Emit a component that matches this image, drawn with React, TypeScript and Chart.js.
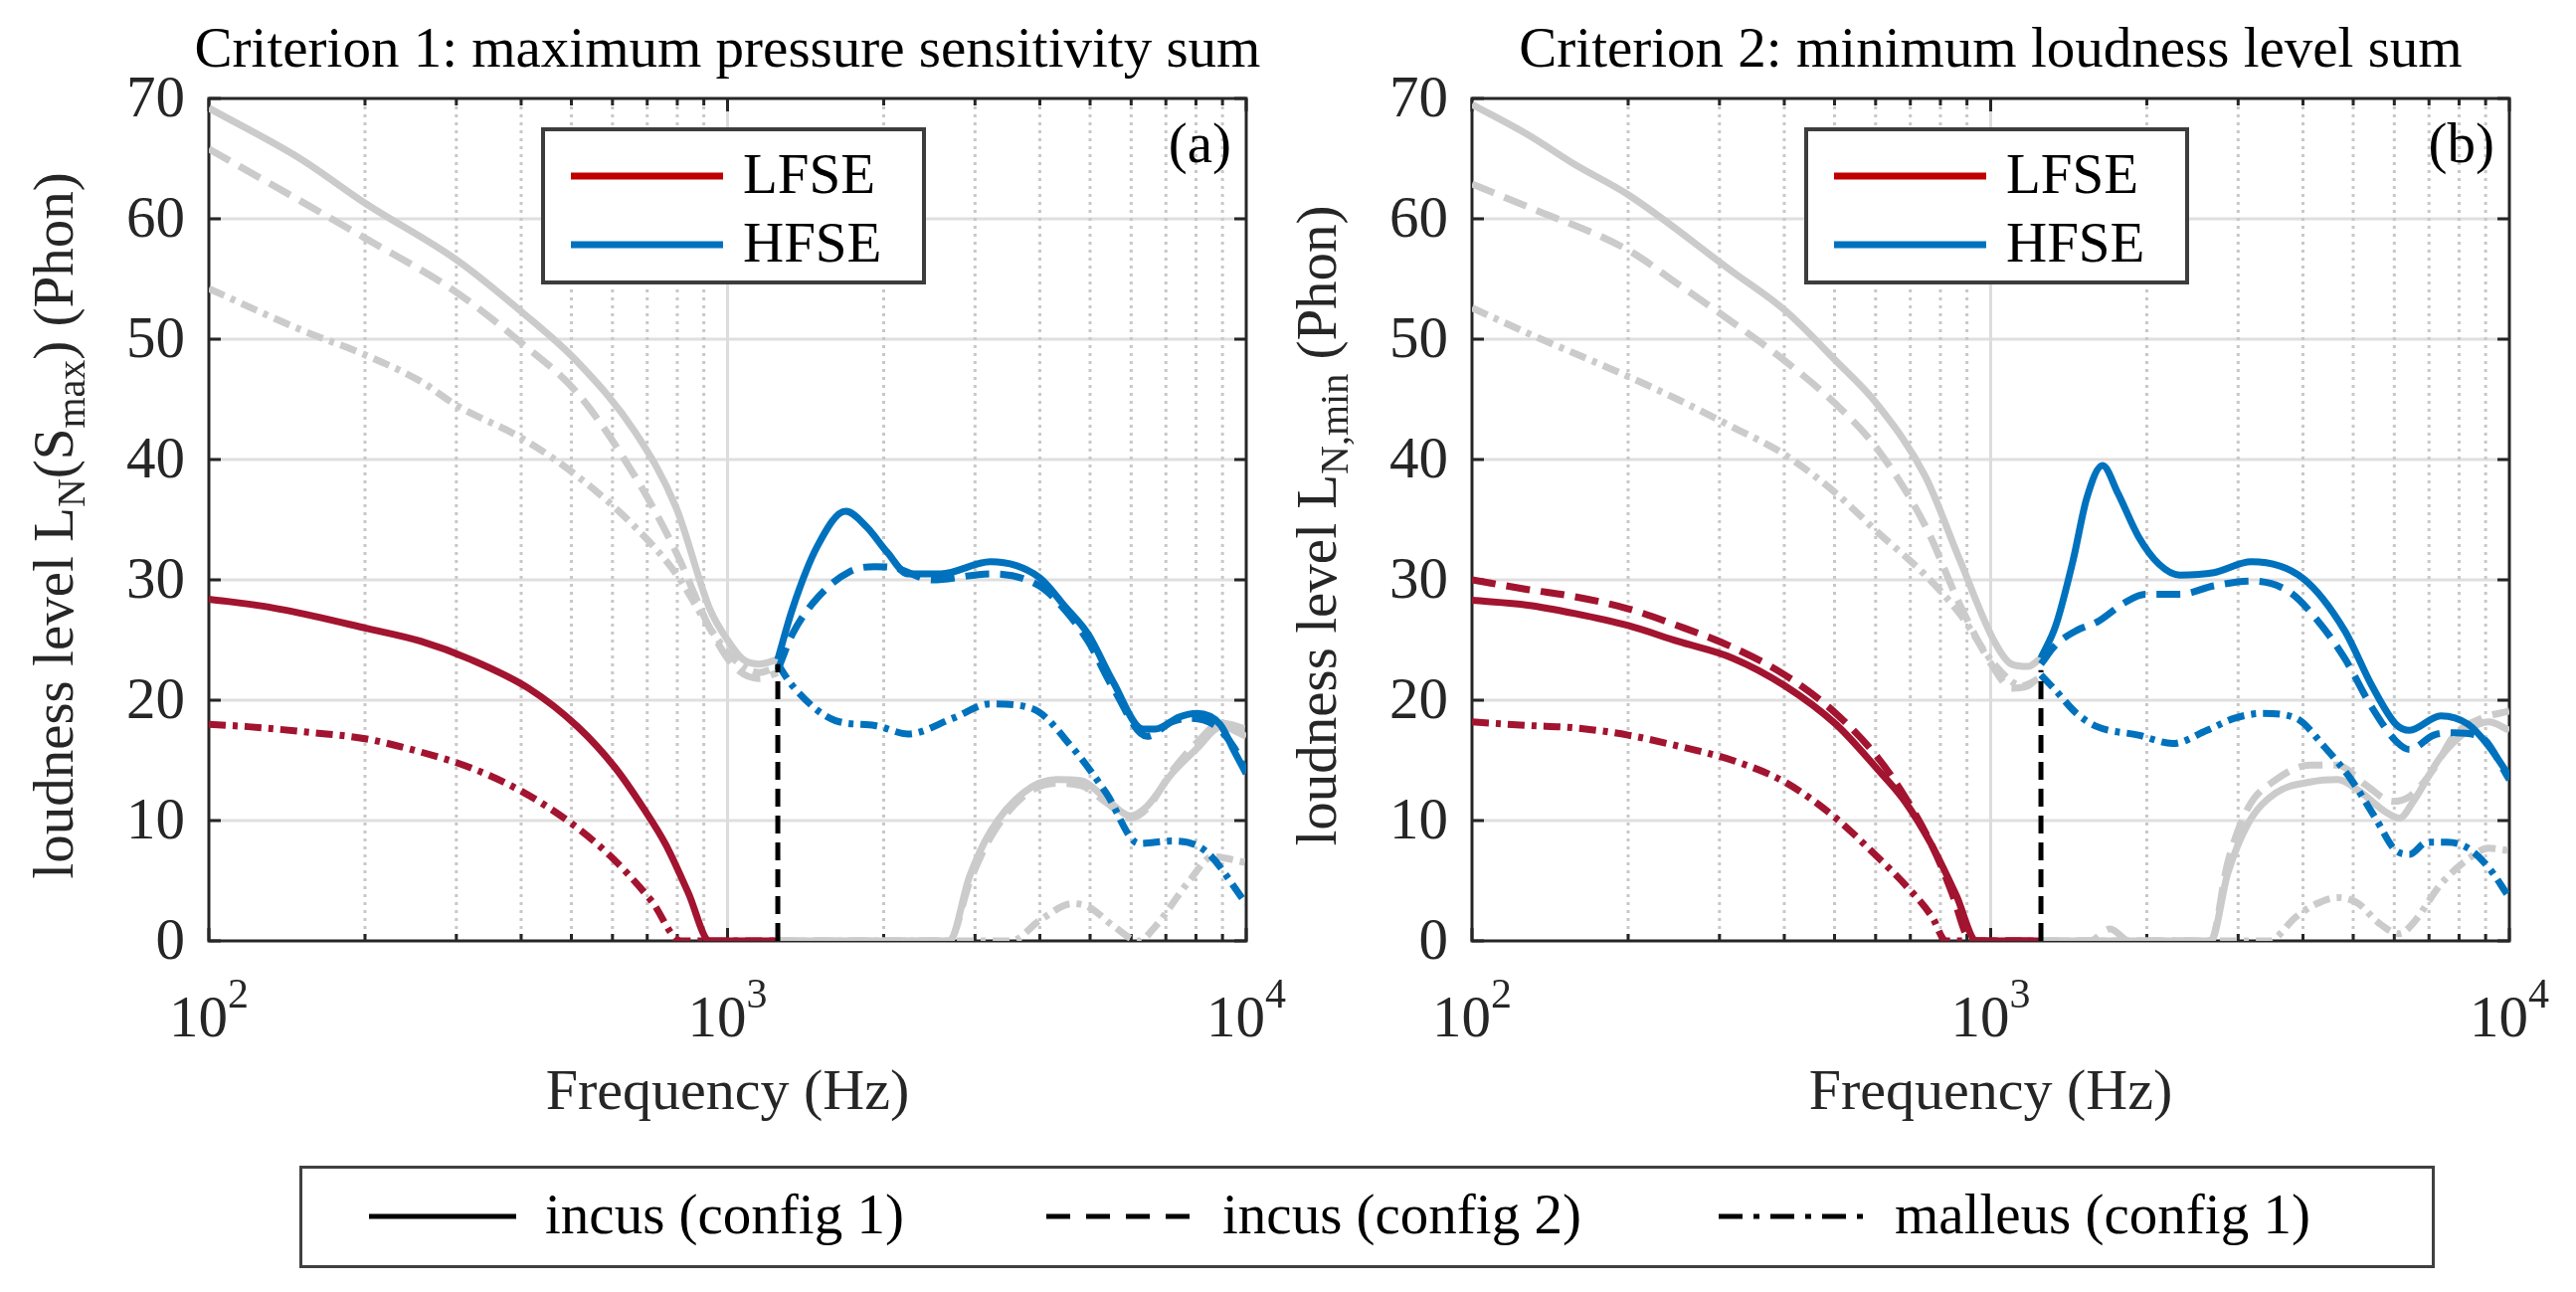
import { useEffect, useRef } from 'react';
import { Chart, registerables } from 'chart.js';

Chart.register(...registerables);

const FONT = '"Liberation Serif", "Times New Roman", serif';
const RED = '#A2142F';
const RED_KEY = '#C00000';
const BLUE = '#0072BD';
const GRAY = '#CBCBCB';
const INK = '#262626';

const Y_TICKS = [0, 10, 20, 30, 40, 50, 60, 70];
const X_DECADES = [2, 3, 4];
const BOUNDARY_F = 1250;

// ---------- panel (a): criterion 1 ----------
const A_GRAY_SOLID_LF_F = [100, 150, 200, 300, 400, 514, 663, 796, 924, 1000, 1070, 1150, 1250];
const A_GRAY_SOLID_LF_Y = [69.2, 65.0, 61.3, 56.6, 52.3, 48.1, 42.3, 36.0, 27.6, 25.0, 23.4, 23.0, 23.4];
const A_GRAY_DASH_LF_F = [100, 150, 200, 300, 400, 514, 663, 796, 924, 1030, 1150, 1250];
const A_GRAY_DASH_LF_Y = [65.8, 61.5, 58.4, 53.9, 49.7, 45.5, 38.6, 32.3, 26.0, 22.8, 21.8, 22.3];
const A_GRAY_DOT_LF_F = [100, 150, 200, 256, 300, 400, 514, 663, 796, 924, 1030, 1150, 1250];
const A_GRAY_DOT_LF_Y = [54.2, 50.8, 48.7, 46.5, 44.5, 41.8, 38.6, 34.4, 30.5, 26.0, 23.4, 22.3, 22.8];

const A_RED_SOLID_F = [100, 128, 159, 200, 256, 319, 413, 514, 607, 689, 760, 840, 924, 1250];
const A_RED_SOLID_Y = [28.4, 27.8, 27.0, 26.0, 24.9, 23.4, 21.0, 17.8, 14.4, 11.0, 8.0, 4.0, 0, 0];
const A_RED_DOT_F = [100, 119, 159, 200, 256, 319, 398, 495, 596, 714, 813, 1250];
const A_RED_DOT_Y = [18.0, 17.8, 17.3, 16.8, 15.7, 14.4, 12.5, 9.9, 7.0, 3.3, 0, 0];

const A_BLUE_SOLID_F = [1250, 1334, 1490, 1690, 1854, 2031, 2228, 2576, 3214, 3990, 4470, 4955, 5540, 6324, 6680, 7420, 8040, 8900, 9500, 10000];
const A_BLUE_SOLID_Y = [23.4, 27.6, 32.8, 35.7, 34.4, 32.3, 30.5, 30.5, 31.5, 30.2, 27.8, 25.5, 21.5, 17.6, 17.6, 18.6, 18.9, 18.0, 15.7, 13.9];
const A_BLUE_DASH_F = [1250, 1334, 1490, 1722, 1923, 2100, 2483, 3214, 3990, 4470, 4955, 5540, 6440, 7190, 7740, 8630, 9500, 10000];
const A_BLUE_DASH_Y = [22.5, 25.5, 28.5, 30.7, 31.1, 31.0, 30.0, 30.5, 29.5, 27.5, 24.9, 21.0, 17.0, 18.2, 18.5, 18.0, 16.0, 14.0];
const A_BLUE_DOT_F = [1250, 1334, 1615, 1923, 2228, 2718, 3214, 3870, 4634, 5370, 6210, 7190, 8330, 10000];
const A_BLUE_DOT_Y = [23.0, 21.2, 18.3, 17.9, 17.2, 18.5, 19.7, 19.3, 16.0, 12.3, 8.1, 8.3, 7.5, 3.1];

const A_GRAY_HF_F = [1250, 2673, 2930, 3214, 3715, 4300, 4810, 5370, 5985, 6440, 7190, 8040, 8960, 10000];
const A_GRAY_SOLID_HF_Y = [0, 0, 5.4, 9.1, 12.3, 13.4, 13.3, 11.8, 10.4, 11.2, 13.9, 16.0, 17.8, 17.0];
const A_GRAY_DASH_HF_Y = [0, 0, 4.9, 8.6, 12.0, 13.1, 12.9, 11.5, 10.2, 11.0, 14.1, 16.5, 18.1, 17.6];
const A_GRAY_DOT_HF_F = [1250, 3524, 4000, 4634, 4977, 5560, 6210, 6680, 7740, 8630, 10000];
const A_GRAY_DOT_HF_Y = [0, 0, 1.7, 3.1, 2.8, 1.2, 0, 1.2, 4.9, 7.0, 6.5];
const A_BOUNDARY_TOP = 23;

// ---------- panel (b): criterion 2 ----------
const B_GRAY_SOLID_LF_F = [100, 128, 158, 200, 318, 401, 503, 604, 748, 871, 1016, 1097, 1180, 1250];
const B_GRAY_SOLID_LF_Y = [69.5, 67.0, 64.5, 62.0, 55.6, 52.4, 48.2, 44.6, 38.6, 31.7, 24.9, 23.0, 22.8, 23.5];
const B_GRAY_DASH_LF_F = [100, 128, 200, 249, 318, 401, 503, 604, 748, 871, 1016, 1097, 1180, 1250];
const B_GRAY_DASH_LF_Y = [62.9, 61.0, 57.4, 54.6, 51.4, 48.2, 44.6, 40.9, 34.5, 28.0, 22.6, 21.0, 21.2, 22.1];
const B_GRAY_DOT_LF_F = [100, 128, 200, 249, 318, 401, 503, 604, 748, 871, 1016, 1150, 1250];
const B_GRAY_DOT_LF_Y = [52.6, 50.5, 46.9, 45.0, 42.7, 40.4, 37.2, 34.0, 30.4, 27.2, 23.0, 21.2, 21.9];

const B_RED_SOLID_F = [100, 128, 158, 200, 249, 318, 401, 503, 604, 683, 771, 858, 940, 1250];
const B_RED_SOLID_Y = [28.3, 27.9, 27.2, 26.2, 24.9, 23.5, 21.2, 18.0, 14.3, 11.6, 7.9, 3.8, 0, 0];
const B_RED_DASH_F = [100, 128, 158, 200, 249, 318, 401, 503, 604, 683, 771, 845, 899, 920, 1250];
const B_RED_DASH_Y = [30.0, 29.2, 28.6, 27.6, 26.2, 24.4, 22.1, 18.9, 15.3, 12.0, 7.9, 3.8, 0.4, 0, 0];
const B_RED_DOT_F = [100, 128, 158, 200, 249, 318, 401, 503, 604, 683, 771, 820, 1250];
const B_RED_DOT_Y = [18.2, 17.9, 17.7, 17.1, 16.2, 15.0, 13.2, 10.2, 7.0, 4.7, 2.0, 0, 0];

const B_BLUE_SOLID_F = [1250, 1335, 1443, 1532, 1643, 1759, 1927, 2112, 2314, 2694, 3183, 4006, 4811, 5433, 6044, 6422, 7374, 8324, 9118, 10000];
const B_BLUE_SOLID_Y = [23.5, 26.2, 31.7, 36.8, 39.5, 37.2, 33.6, 31.3, 30.4, 30.6, 31.5, 30.1, 25.8, 21.2, 18.0, 17.5, 18.7, 18.0, 16.2, 13.7];
const B_BLUE_DASH_F = [1250, 1335, 1465, 1604, 1812, 1986, 2314, 2694, 3183, 3767, 4254, 4811, 5433, 6044, 6422, 7150, 7834, 8850, 10000];
const B_BLUE_DASH_Y = [23.0, 24.6, 25.8, 26.5, 28.1, 28.8, 28.8, 29.5, 29.9, 29.0, 26.7, 23.5, 19.4, 16.6, 15.9, 17.1, 17.3, 16.9, 13.4];
const B_BLUE_DOT_F = [1250, 1335, 1465, 1604, 1927, 2244, 2613, 2951, 3333, 3881, 4385, 4955, 5520, 6044, 6422, 6935, 7600, 8324, 9118, 10000];
const B_BLUE_DOT_Y = [22.1, 20.8, 18.9, 17.8, 17.1, 16.4, 17.5, 18.5, 18.9, 18.5, 16.2, 13.4, 10.2, 7.5, 7.2, 8.2, 8.2, 7.7, 6.1, 3.6];

const B_GRAY_SOLID_HF_F = [1250, 2656, 2864, 3140, 3548, 4130, 4667, 5115, 5780, 6140, 6530, 7374, 8324, 9118, 10000];
const B_GRAY_SOLID_HF_Y = [0, 0, 5.6, 9.8, 12.3, 13.2, 13.4, 12.5, 10.7, 10.2, 11.6, 15.3, 17.5, 18.2, 17.5];
const B_GRAY_DASH_HF_F = [1250, 1550, 1700, 1850, 2656, 2864, 3140, 3548, 4130, 4667, 5270, 5960, 6422, 7150, 7834, 8850, 10000];
const B_GRAY_DASH_HF_Y = [0, 0, 1.0, 0, 0, 6.5, 11.1, 13.4, 14.6, 14.6, 13.0, 11.6, 12.0, 14.3, 17.1, 18.5, 19.1];
const B_GRAY_DOT_HF_F = [1250, 3436, 3881, 4254, 4667, 5115, 5595, 6140, 6530, 7374, 8324, 9118, 10000];
const B_GRAY_DOT_HF_Y = [0, 0, 2.0, 3.1, 3.6, 3.1, 1.5, 0.6, 1.5, 4.7, 6.8, 7.7, 7.5];
const B_BOUNDARY_TOP = 22.5;

const KEY_LABELS = ['LFSE', 'HFSE'];
const BOTTOM_LABELS = ['incus (config 1)', 'incus (config 2)', 'malleus (config 1)'];

const SOLID: number[] = [];
const DASHED = [24, 11];
const DASHDOT = [17, 7, 5, 7];

type Series = { f: number[]; y: number[]; color: string; dash: number[]; order: number };
type Part = { t: string; size: number; dy: number };
type Panel = {
  title: string;
  letter: string;
  ylabel: Part[];
  series: Series[];
  boundaryTop: number;
};

const sub = (t: string): Part => ({ t, size: 40, dy: 12 });
const main = (t: string): Part => ({ t, size: 57, dy: 0 });

const PANEL_A: Panel = {
  title: 'Criterion 1: maximum pressure sensitivity sum',
  letter: '(a)',
  ylabel: [main('loudness level L'), sub('N'), main('(S'), sub('max'), main(') (Phon)')],
  boundaryTop: A_BOUNDARY_TOP,
  series: [
    { f: A_GRAY_SOLID_LF_F, y: A_GRAY_SOLID_LF_Y, color: GRAY, dash: SOLID, order: 5 },
    { f: A_GRAY_DASH_LF_F, y: A_GRAY_DASH_LF_Y, color: GRAY, dash: DASHED, order: 5 },
    { f: A_GRAY_DOT_LF_F, y: A_GRAY_DOT_LF_Y, color: GRAY, dash: DASHDOT, order: 5 },
    { f: A_GRAY_HF_F, y: A_GRAY_SOLID_HF_Y, color: GRAY, dash: SOLID, order: 5 },
    { f: A_GRAY_HF_F, y: A_GRAY_DASH_HF_Y, color: GRAY, dash: DASHED, order: 5 },
    { f: A_GRAY_DOT_HF_F, y: A_GRAY_DOT_HF_Y, color: GRAY, dash: DASHDOT, order: 5 },
    { f: A_RED_DOT_F, y: A_RED_DOT_Y, color: RED, dash: DASHDOT, order: 3 },
    { f: A_RED_SOLID_F, y: A_RED_SOLID_Y, color: RED, dash: SOLID, order: 2 },
    { f: A_BLUE_DOT_F, y: A_BLUE_DOT_Y, color: BLUE, dash: DASHDOT, order: 3 },
    { f: A_BLUE_DASH_F, y: A_BLUE_DASH_Y, color: BLUE, dash: DASHED, order: 3 },
    { f: A_BLUE_SOLID_F, y: A_BLUE_SOLID_Y, color: BLUE, dash: SOLID, order: 2 },
  ],
};

const PANEL_B: Panel = {
  title: 'Criterion 2: minimum loudness level sum',
  letter: '(b)',
  ylabel: [main('loudness level L'), sub('N,min'), main(' (Phon)')],
  boundaryTop: B_BOUNDARY_TOP,
  series: [
    { f: B_GRAY_SOLID_LF_F, y: B_GRAY_SOLID_LF_Y, color: GRAY, dash: SOLID, order: 5 },
    { f: B_GRAY_DASH_LF_F, y: B_GRAY_DASH_LF_Y, color: GRAY, dash: DASHED, order: 5 },
    { f: B_GRAY_DOT_LF_F, y: B_GRAY_DOT_LF_Y, color: GRAY, dash: DASHDOT, order: 5 },
    { f: B_GRAY_SOLID_HF_F, y: B_GRAY_SOLID_HF_Y, color: GRAY, dash: SOLID, order: 5 },
    { f: B_GRAY_DASH_HF_F, y: B_GRAY_DASH_HF_Y, color: GRAY, dash: DASHED, order: 5 },
    { f: B_GRAY_DOT_HF_F, y: B_GRAY_DOT_HF_Y, color: GRAY, dash: DASHDOT, order: 5 },
    { f: B_RED_DOT_F, y: B_RED_DOT_Y, color: RED, dash: DASHDOT, order: 3 },
    { f: B_RED_DASH_F, y: B_RED_DASH_Y, color: RED, dash: DASHED, order: 3 },
    { f: B_RED_SOLID_F, y: B_RED_SOLID_Y, color: RED, dash: SOLID, order: 2 },
    { f: B_BLUE_DOT_F, y: B_BLUE_DOT_Y, color: BLUE, dash: DASHDOT, order: 3 },
    { f: B_BLUE_DASH_F, y: B_BLUE_DASH_Y, color: BLUE, dash: DASHED, order: 3 },
    { f: B_BLUE_SOLID_F, y: B_BLUE_SOLID_Y, color: BLUE, dash: SOLID, order: 2 },
  ],
};

function drawParts(ctx: CanvasRenderingContext2D, parts: Part[], x: number, y: number) {
  const widths = parts.map((p) => {
    ctx.font = `${p.size}px ${FONT}`;
    return ctx.measureText(p.t).width;
  });
  let cx = x - widths.reduce((s, w) => s + w, 0) / 2;
  parts.forEach((p, i) => {
    ctx.font = `${p.size}px ${FONT}`;
    ctx.fillText(p.t, cx, y + p.dy);
    cx += widths[i];
  });
}

function seg(ctx: CanvasRenderingContext2D, x1: number, y1: number, x2: number, y2: number) {
  ctx.beginPath();
  ctx.moveTo(x1, y1);
  ctx.lineTo(x2, y2);
  ctx.stroke();
}

function decor(p: Panel) {
  return {
    id: 'decor',
    beforeDatasetsDraw(chart: any) {
      const { ctx, chartArea: a } = chart;
      const xs = chart.scales.x;
      const ys = chart.scales.y;
      ctx.save();
      ctx.lineCap = 'butt';

      // grid
      ctx.lineWidth = 3;
      ctx.strokeStyle = '#dfdfdf';
      Y_TICKS.forEach((v) => {
        if (v <= 0 || v >= 70) return;
        const py = ys.getPixelForValue(v);
        seg(ctx, a.left, py, a.right, py);
      });
      ctx.strokeStyle = '#dcdcdc';
      const px1k = xs.getPixelForValue(1000);
      seg(ctx, px1k, a.top, px1k, a.bottom);
      ctx.strokeStyle = '#c8c8c8';
      ctx.setLineDash([3, 5]);
      [100, 1000].forEach((d) => {
        for (let m = 2; m <= 9; m++) {
          const px = xs.getPixelForValue(d * m);
          seg(ctx, px, a.top, px, a.bottom);
        }
      });
      ctx.setLineDash([]);

      // frame and inward ticks
      ctx.strokeStyle = INK;
      ctx.lineWidth = 3;
      ctx.strokeRect(a.left, a.top, a.width, a.height);
      Y_TICKS.forEach((v) => {
        const py = ys.getPixelForValue(v);
        seg(ctx, a.left, py, a.left + 12, py);
        seg(ctx, a.right - 12, py, a.right, py);
      });
      [100, 1000].forEach((d) => {
        for (let m = 2; m <= 9; m++) {
          const px = xs.getPixelForValue(d * m);
          seg(ctx, px, a.bottom, px, a.bottom - 7);
          seg(ctx, px, a.top, px, a.top + 7);
        }
      });
      X_DECADES.forEach((e) => {
        const px = xs.getPixelForValue(10 ** e);
        seg(ctx, px, a.bottom, px, a.bottom - 13);
        seg(ctx, px, a.top, px, a.top + 13);
      });

      // tick labels
      ctx.fillStyle = INK;
      ctx.textBaseline = 'middle';
      ctx.textAlign = 'right';
      ctx.font = `59px ${FONT}`;
      Y_TICKS.forEach((v) => {
        ctx.fillText(String(v), a.left - 24, ys.getPixelForValue(v) + 2);
      });
      ctx.textAlign = 'left';
      ctx.textBaseline = 'alphabetic';
      X_DECADES.forEach((e) => {
        const px = xs.getPixelForValue(10 ** e);
        ctx.font = `59px ${FONT}`;
        const w1 = ctx.measureText('10').width;
        ctx.font = `42px ${FONT}`;
        const w2 = ctx.measureText(String(e)).width;
        const x0 = px - (w1 + w2) / 2;
        ctx.font = `59px ${FONT}`;
        ctx.fillText('10', x0, a.bottom + 96);
        ctx.font = `42px ${FONT}`;
        ctx.fillText(String(e), x0 + w1, a.bottom + 67);
      });

      // axis labels and title
      const cx = (a.left + a.right) / 2;
      ctx.font = `58px ${FONT}`;
      ctx.textAlign = 'center';
      ctx.fillText('Frequency (Hz)', cx, a.bottom + 169);
      ctx.fillStyle = '#000';
      ctx.font = `57px ${FONT}`;
      ctx.fillText(p.title, cx, a.top - 32);
      ctx.fillStyle = INK;
      ctx.textAlign = 'left';
      ctx.save();
      ctx.translate(a.left - 137, (a.top + a.bottom) / 2 + 6);
      ctx.rotate(-Math.PI / 2);
      drawParts(ctx, p.ylabel, 0, 0);
      ctx.restore();
      ctx.restore();
    },
    afterDatasetsDraw(chart: any) {
      const { ctx, chartArea: a } = chart;
      ctx.save();
      // inset key
      const bx = a.left + 336;
      const by = a.top + 31;
      ctx.fillStyle = '#fff';
      ctx.fillRect(bx, by, 383, 154);
      ctx.strokeStyle = '#3d3d3d';
      ctx.lineWidth = 4;
      ctx.strokeRect(bx, by, 383, 154);
      [RED_KEY, BLUE].forEach((c, i) => {
        const ly = by + 47 + i * 69;
        ctx.strokeStyle = c;
        ctx.lineWidth = 7;
        seg(ctx, bx + 28, ly, bx + 181, ly);
        ctx.fillStyle = '#000';
        ctx.font = `57px ${FONT}`;
        ctx.textAlign = 'left';
        ctx.textBaseline = 'alphabetic';
        ctx.fillText(KEY_LABELS[i], bx + 201, ly + 17);
      });
      ctx.font = `57px ${FONT}`;
      ctx.textAlign = 'right';
      ctx.fillStyle = '#000';
      ctx.fillText(p.letter, a.right - 15, a.top + 64);
      ctx.restore();
    },
  };
}

function PanelChart({ panel, left, padLeft, padRight }: { panel: Panel; left: number; padLeft: number; padRight: number }) {
  const canvasRef = useRef<HTMLCanvasElement>(null);

  useEffect(() => {
    const el = canvasRef.current;
    if (!el) return;
    const datasets: any[] = panel.series.map((s) => ({
      data: s.f.map((f, i) => ({ x: f, y: s.y[i] })),
      borderColor: s.color,
      borderWidth: 7,
      borderDash: s.dash,
      borderCapStyle: 'butt',
      borderJoinStyle: 'round',
      cubicInterpolationMode: 'monotone',
      pointRadius: 0,
      fill: false,
      order: s.order,
    }));
    datasets.push({
      data: [
        { x: BOUNDARY_F, y: 0 },
        { x: BOUNDARY_F, y: panel.boundaryTop },
      ],
      borderColor: '#000',
      borderWidth: 5,
      borderDash: [18, 9],
      pointRadius: 0,
      tension: 0,
      fill: false,
      order: 1,
    });
    const chart = new Chart(el, {
      type: 'line',
      data: { datasets },
      options: {
        responsive: false,
        animation: false,
        devicePixelRatio: 1,
        layout: { padding: { left: padLeft, right: padRight, top: 99, bottom: 214 } },
        plugins: { legend: { display: false }, tooltip: { enabled: false } },
        scales: {
          x: { type: 'logarithmic', min: 100, max: 10000, display: false },
          y: { type: 'linear', min: 0, max: 70, display: false },
        },
      },
      plugins: [decor(panel)],
    });
    return () => chart.destroy();
  }, [panel, padLeft, padRight]);

  return (
    <canvas
      ref={canvasRef}
      width={1295}
      height={1160}
      style={{ position: 'absolute', left, top: 0, width: 1295, height: 1160 }}
    />
  );
}

const KEY_X = [371, 1052, 1728];
const KEY_DASH = ['', '24 16', '24 11 6 11'];

export default function App() {
  useEffect(() => {
    document.body.style.margin = '0';
  }, []);

  return (
    <div style={{ position: 'relative', width: 2590, height: 1299, background: '#fff', overflow: 'hidden' }}>
      <PanelChart panel={PANEL_A} left={0} padLeft={210} padRight={42} />
      <PanelChart panel={PANEL_B} left={1295} padLeft={185} padRight={67} />
      <svg width={2590} height={1299} style={{ position: 'absolute', left: 0, top: 0 }}>
        <rect x={302.5} y={1173.5} width={2144} height={100} fill="#fff" stroke="#404040" strokeWidth={3} />
        {BOTTOM_LABELS.map((label, i) => (
          <g key={label}>
            <line
              x1={KEY_X[i]}
              x2={KEY_X[i] + 148}
              y1={1223}
              y2={1223}
              stroke="#000"
              strokeWidth={5}
              strokeDasharray={KEY_DASH[i] || undefined}
            />
            <text x={KEY_X[i] + 177} y={1240} fontFamily={FONT} fontSize={57} fill="#000">
              {label}
            </text>
          </g>
        ))}
      </svg>
    </div>
  );
}
